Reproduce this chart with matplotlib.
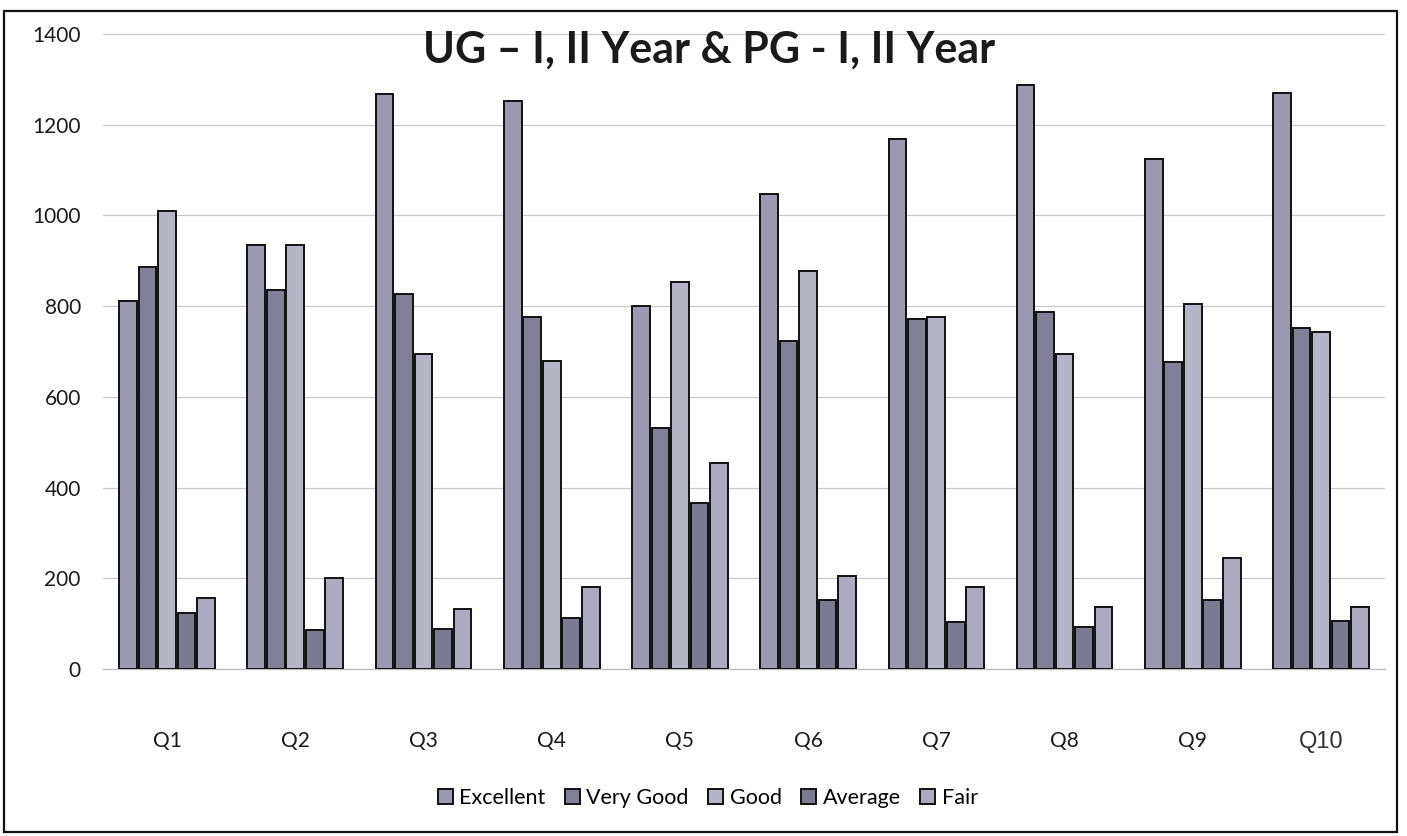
import numpy as np
import matplotlib
matplotlib.use('Agg')
import matplotlib.pyplot as plt
from matplotlib.patches import Rectangle

questions = ['Q1', 'Q2', 'Q3', 'Q4', 'Q5', 'Q6', 'Q7', 'Q8', 'Q9', 'Q10']
series    = ['Excellent', 'Very Good', 'Good', 'Average', 'Fair']

excellent = [812, 935, 1268, 1252, 800, 1048, 1168, 1288, 1125, 1270]
very_good = [886, 835, 826, 776, 532, 723, 772, 788, 676, 752]
good      = [1010, 935, 694, 679, 853, 877, 776, 694, 804, 744]
average   = [123, 86, 88, 113, 365, 152, 103, 92, 151, 106]
fair      = [156, 200, 132, 181, 455, 205, 180, 136, 244, 136]

values = [excellent, very_good, good, average, fair]
colors = ['#9c9ab0', '#828096', '#b6b5c7', '#7c7a8f', '#abaabe']

plt.rcParams['font.family'] = ['Lato', 'DejaVu Sans']

fig = plt.figure(figsize=(14.07, 8.36), dpi=100)
ax = fig.add_axes([0.0732, 0.1998, 0.9112, 0.7595])

x = np.arange(len(questions))
slot, width = 0.152, 0.138
for i, (name, vals, col) in enumerate(zip(series, values, colors)):
    ax.bar(x + (i - 2) * slot, vals, width, color=col, edgecolor='#111111',
           linewidth=1.4, label=name, zorder=3)

ax.set_xlim(-0.5, len(questions) - 0.5)
ax.set_ylim(0, 1400)
ax.set_yticks(range(0, 1401, 200))
ax.yaxis.grid(True, color='#c9c9c9', linewidth=0.9, zorder=0)
ax.set_axisbelow(True)
for s in ['top', 'right', 'left']:
    ax.spines[s].set_visible(False)
ax.spines['bottom'].set_color('#bcbcbc')
ax.spines['bottom'].set_linewidth(0.9)

ax.set_xticks(x)
ax.set_xticklabels(questions)
ax.tick_params(axis='both', length=0, labelsize=15, colors='#1a1a1a')
ax.tick_params(axis='x', pad=45)
ax.tick_params(axis='y', pad=16)
lbl = ax.get_xticklabels()[-1]
lbl.set_fontfamily('Liberation Sans')
lbl.set_fontsize(17)
lbl.set_color('#333333')

fig.text(0.504, 0.941, 'UG \u2013 I, II Year & PG - I, II Year', ha='center', va='center',
         fontsize=31, fontweight='bold', color='#1a1a1a')

fig.legend(loc='center', bbox_to_anchor=(0.503, 0.045), ncol=5, frameon=False,
           fontsize=15.5, handlelength=0.7, handleheight=0.7, handletextpad=0.3,
           columnspacing=0.9)

fig.patches.append(Rectangle((0.003, 0.005), 0.99, 0.982, transform=fig.transFigure,
                             fill=False, edgecolor='#111111', linewidth=1.6))

fig.savefig('out.png', dpi=100)
